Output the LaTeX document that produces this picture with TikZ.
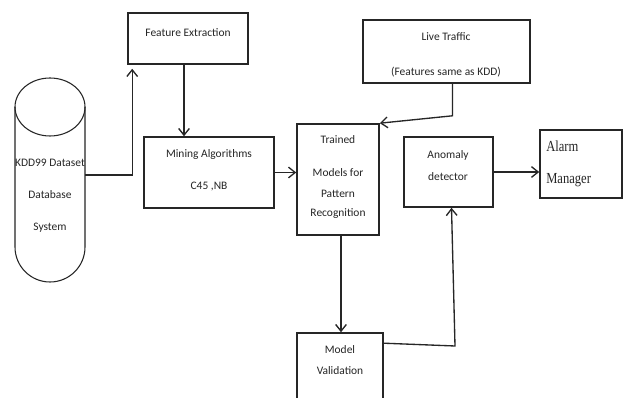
\documentclass[tikz,border=0pt]{standalone}
\usepackage{fontspec}
\setmainfont{Carlito}
\newfontfamily\tnr{Liberation Serif}
\usetikzlibrary{arrows.meta,fit,calc}
\definecolor{ink}{HTML}{262626}
\tikzset{
  box/.style={draw=ink, line width=1.2pt, inner sep=0pt, fill=white},
  txt/.style={inner sep=0pt, text=ink, font=\fontsize{8.6}{10}\selectfont},
  alarmtxt/.style={inner sep=0pt, text=ink, anchor=west, font=\tnr\fontsize{11.5}{12}\selectfont},
  conn/.style={draw=ink, line width=1pt},
  arr/.style={conn, -{Straight Barb[length=5pt,width=8pt,line width=1pt]}}
}
\begin{document}
\begin{tikzpicture}[x=0.75pt,y=-0.75pt]
\clip (0,0) rectangle (624,398);
\fill[white] (0,0) rectangle (624,398);
% cylinder
\draw[conn, line width=0.8pt] (50,107) ellipse [x radius=35, y radius=29];
\draw[conn, line width=0.8pt] (15,107) -- (15,247) arc[start angle=180, end angle=0, x radius=35, y radius=35] -- (85,107);
\coordinate (dbout) at (85,175);
\node[txt] (db1) at (50,163) {KDD99 Dataset};
\node[txt] (db2) at (50,195) {Database};
\node[txt] (db3) at (50,228) {System};
% boxes
\node[box, fit={(128,13) (248,64)}] (fe) {};
\node[txt] (fet) at (188,33) {Feature Extraction};
\node[box, fit={(144,137) (274,208)}] (mn) {};
\node[txt] (mn1) at (209,155) {Mining Algorithms};
\node[txt] (mn2) at (209,187) {C45 ,NB};
\node[box, fit={(297,124) (379,235)}] (tr) {};
\node[txt] (tr1) at (338,140) {Trained};
\node[txt] (tr2) at (338,173) {Models for};
\node[txt] (tr3) at (338,194) {Pattern};
\node[txt] (tr4) at (338,214) {Recognition};
\node[box, fit={(363,20) (530,83)}] (lt) {};
\node[txt] (lt1) at (446,37) {Live Traffic};
\node[txt] (lt2) at (446,72) {(Features same as KDD)};
\node[box, fit={(404,137) (493,207)}] (an) {};
\node[txt] (an1) at (448,155) {Anomaly};
\node[txt] (an2) at (448,177) {detector};
\node[box, fit={(540,130) (622,198)}] (am) {};
\node[alarmtxt] (am1) at (546,146) {\scalebox{0.82}[1]{Alarm}};
\node[alarmtxt] (am2) at (546,180) {\scalebox{0.82}[1]{Manager}};
\node[box, fit={(297,333) (383,420)}] (mv) {};
\node[txt] (mv1) at (340,350) {Model};
\node[txt] (mv2) at (340,371) {Validation};
% helper coordinates
\coordinate (feout) at ($(fe.south)+(-4,0)$);
\coordinate (feup) at ($(fe.south west)+(5,4)$);
\coordinate (ltout) at ($(lt.south)+(6,0)$);
\coordinate (trout) at ($(tr.south)+(3,0)$);
\coordinate (mvout) at ($(mv.north east)+(0,11)$);
\coordinate (mvturn) at (455,346);
\coordinate (anin) at ($(an.south)+(3,0)$);
% connectors
\draw[arr] (dbout) -| (feup);
\draw[arr] (feout) -- (feout |- mn.north);
\draw[arr] (mn.east) -- (mn.east -| tr.west);
\draw[arr] (ltout) -- ++(0,32) -- (tr.north east);
\draw[arr] (trout) -- (trout |- mv.north);
\draw[arr] (mvout) -- (mvturn) -- (anin);
\draw[arr] (an.east) -- (an.east -| am.west);
\end{tikzpicture}
\end{document}
